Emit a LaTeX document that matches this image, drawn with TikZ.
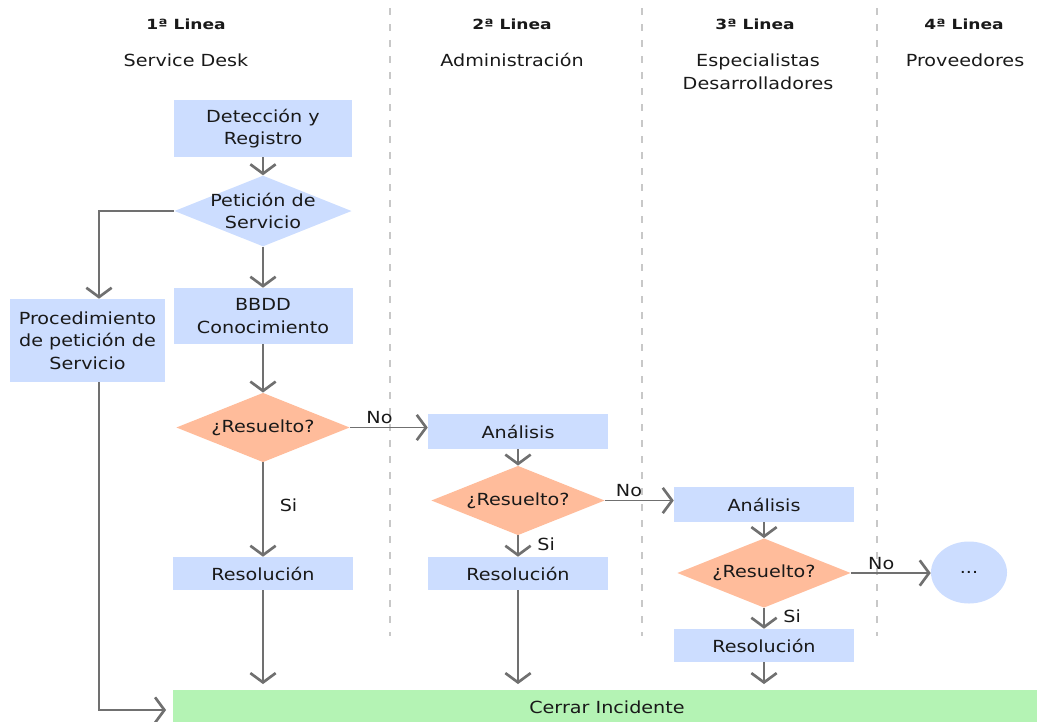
\documentclass[tikz,border=0pt]{standalone}
\usepackage{fontspec}
\setmainfont{DejaVu Sans}[FakeStretch=1.15]
\newfontfamily\hdfont{DejaVu Sans Bold}[FakeStretch=1.22]
\usetikzlibrary{shapes.geometric,arrows.meta,calc}
\definecolor{boxblue}{RGB}{204,221,255}
\definecolor{salmon}{RGB}{255,188,155}
\definecolor{okgreen}{RGB}{180,243,180}
\definecolor{arrgray}{RGB}{112,112,112}
\definecolor{lanegray}{RGB}{200,200,200}
\definecolor{txt}{RGB}{25,25,25}
\tikzset{
  base/.style={text=txt, align=center, inner sep=0pt, font=\fontsize{12.5}{17}\selectfont},
  box/.style={base, rectangle, fill=boxblue},
  dec/.style={base, diamond, fill=salmon, minimum width=130pt, minimum height=52pt, aspect=2.5},
  decb/.style={base, diamond, fill=boxblue, minimum width=130pt, minimum height=52pt, aspect=2.5, inner sep=-2pt},
  lbl/.style={base},
  hdr/.style={text=txt, inner sep=0pt, font=\hdfont\fontsize{10.5}{12}\selectfont},
  lane/.style={draw=lanegray, line width=1.1pt, dash pattern=on 5pt off 7pt},
  arr/.style={draw=arrgray, line width=1.2pt, -{Straight Barb[length=7pt,width=19pt,line width=2pt]}},
  ln/.style={draw=arrgray, line width=1.2pt}
}
\begin{document}
\begin{tikzpicture}[x=0.75pt,y=-0.75pt]
\useasboundingbox (0,0) rectangle (1037,721);
% lanes
\draw[lane] (390,8) -- (390,636);
\draw[lane] (642,8) -- (642,636);
\draw[lane] (877,8) -- (877,636);
% headers
\node[hdr] (h1) at (186,24) {1ª Linea};
\node[hdr] (h2) at (512,24) {2ª Linea};
\node[hdr] (h3) at (755,24) {3ª Linea};
\node[hdr] (h4) at (964,24) {4ª Linea};
\node[lbl] (t1) at (186,60) {Service Desk};
\node[lbl] (t2) at (512,60) {Administración};
\node[lbl] (t3) at (758,72) {Especialistas\\Desarrolladores};
\node[lbl] (t4) at (965,60) {Proveedores};
% column 1
\node[box, minimum width=133.5pt, minimum height=42.75pt] (det) at (263,128.5) {Detección y\\Registro};
\node[decb] (pet) at (263,211) {Petición de\\Servicio};
\node[box, minimum width=134.25pt, minimum height=42pt] (bbdd) at (263,316) {BBDD\\Conocimiento};
\node[box, minimum width=116.25pt, minimum height=62.25pt] (proc) at (87.5,340.5) {Procedimiento\\de petición de\\Servicio};
\node[dec] (r1) at (263,427.5) {¿Resuelto?};
\node[box, minimum width=135pt, minimum height=24.75pt] (s1) at (263,573.5) {Resolución};
% column 2
\node[box, minimum width=135pt, minimum height=26.25pt] (a2) at (518,431.5) {Análisis};
\node[dec] (r2) at (518,500.5) {¿Resuelto?};
\node[box, minimum width=135pt, minimum height=24.75pt] (s2) at (518,573.5) {Resolución};
% column 3
\node[box, minimum width=135pt, minimum height=26.25pt] (a3) at (764,504.5) {Análisis};
\node[dec] (r3) at (764,573) {¿Resuelto?};
\node[box, minimum width=135pt, minimum height=24.75pt] (s3) at (764,645.5) {Resolución};
% column 4
\node[base, ellipse, fill=boxblue, minimum width=57pt, minimum height=46.5pt] (more) at (969,572.5) {...};
% close
\node[base, rectangle, fill=okgreen, minimum width=651pt, minimum height=26pt] (cerrar) at (607,707) {Cerrar Incidente};
% connectors
\draw[arr] (det) -- (pet);
\draw[arr] (pet) -- (bbdd);
\draw[arr] (pet.west) -| ($(proc.north)+(11.5,0)$);
\draw[arr] (bbdd) -- (r1);
\draw[arr] (r1) -- node[lbl, pos=0.45, right=12pt] (si1) {Si} (s1);
\draw[arr] (r1.east) -- node[lbl, pos=0.38, above=2pt] (no1) {No} (a2.west |- r1.east);
\draw[arr] (a2) -- (r2);
\draw[arr] (r2) -- node[lbl, right=14pt, pos=0.4] (si2) {Si} (s2);
\draw[arr] (r2.east) -- node[lbl, pos=0.35, above=2pt] (no2) {No} (a3.west |- r2.east);
\draw[arr] (a3) -- (r3);
\draw[arr] (r3) -- node[lbl, right=14pt, pos=0.4] (si3) {Si} (s3);
\draw[arr] (r3.east) -- node[lbl, pos=0.38, above=2pt] (no3) {No} (more.west |- r3.east);
\draw[arr, shorten >=4pt] (s1) -- (s1 |- cerrar.north);
\draw[arr, shorten >=4pt] (s2) -- (s2 |- cerrar.north);
\draw[arr, shorten >=4pt] (s3) -- (s3 |- cerrar.north);
\draw[arr, shorten >=5pt] ($(proc.south)+(11.5,0)$) |- ($(cerrar.west)+(0,3)$);
\end{tikzpicture}
\end{document}
